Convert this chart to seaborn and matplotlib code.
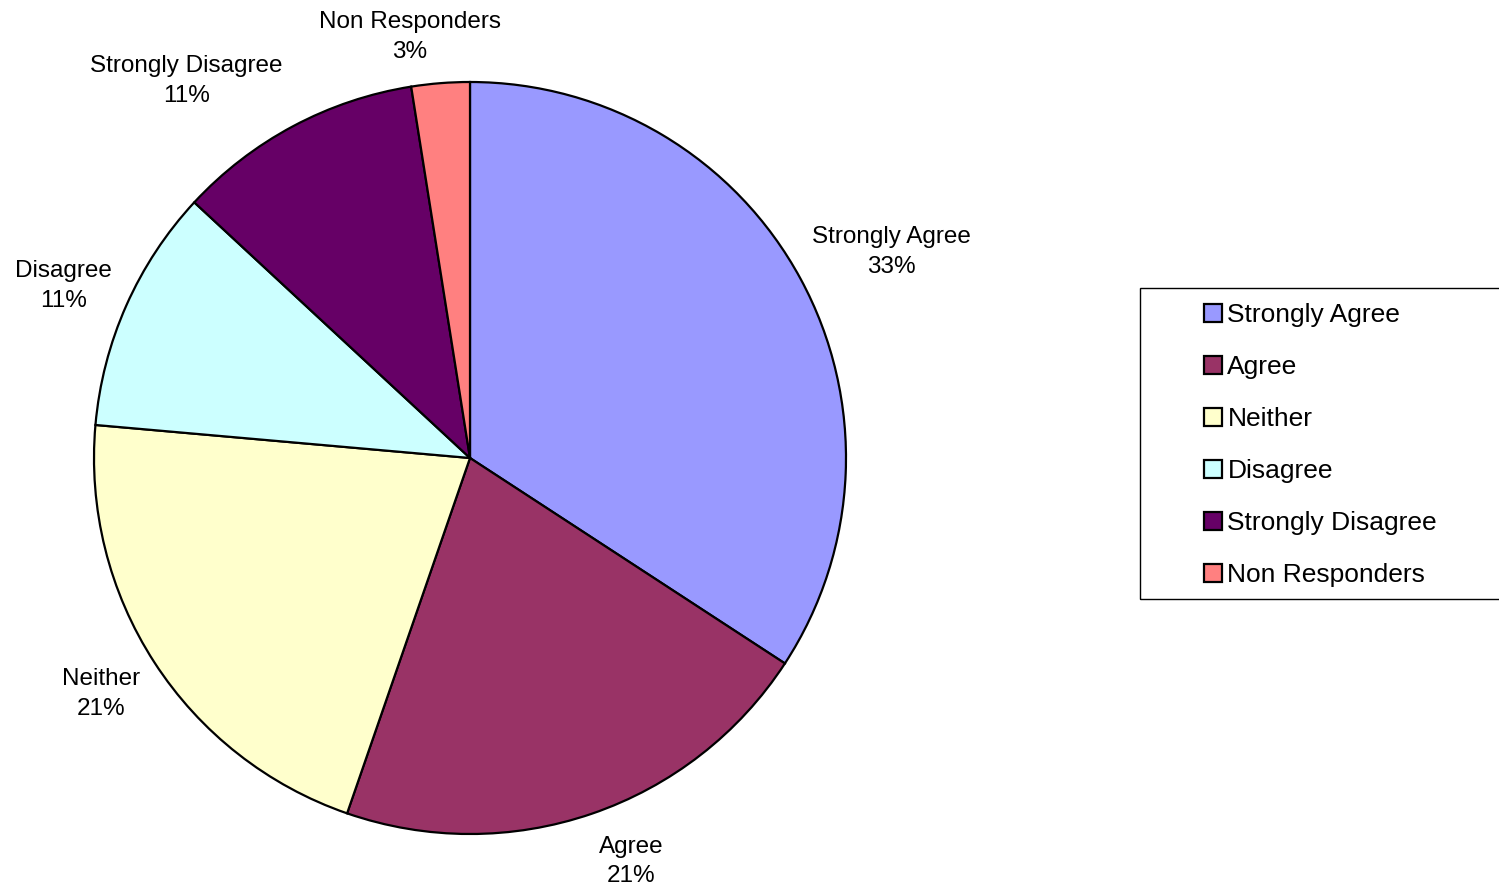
import matplotlib.pyplot as plt
from matplotlib.patches import Patch, Rectangle
import seaborn as sns

# data
categories = ['Strongly Agree', 'Agree', 'Neither', 'Disagree',
              'Strongly Disagree', 'Non Responders']
shares = [34.2, 21.1, 21.1, 10.5, 10.6, 2.5]
pct_text = ['33%', '21%', '21%', '11%', '11%', '3%']
colors = ['#9999FF', '#993366', '#FFFFCC', '#CCFFFF', '#660066', '#FF8080']

# label centres in pie units (radius = 1)
label_xy = [(1.122, 0.548), (0.428, -1.073), (-0.981, -0.627),
            (-1.082, 0.458), (-0.755, 1.003), (-0.160, 1.120)]

sns.set_theme(style='white')
plt.rcParams['font.family'] = ['Liberation Sans', 'DejaVu Sans']
plt.rcParams['text.color'] = 'black'

fig = plt.figure(figsize=(14.99, 8.90), dpi=100)
W, H = 1499, 890
cx, cy, r = 470, 458, 376
ax = fig.add_axes([(cx - r) / W, (H - cy - r) / H, 2 * r / W, 2 * r / H])

wedges, _ = ax.pie(shares, colors=colors, startangle=90, counterclock=False,
                   radius=1, wedgeprops=dict(edgecolor='black', linewidth=1.6))
ax.set_xlim(-1, 1)
ax.set_ylim(-1, 1)
ax.set_aspect('equal')
ax.axis('off')

for (x, y), name, pct in zip(label_xy, categories, pct_text):
    ax.text(x, y, f'{name}\n{pct}', ha='center', va='center', fontsize=17.5,
            linespacing=1.45, color='black', clip_on=False)

# legend
handles = [Patch(facecolor=c, edgecolor='black', linewidth=1.6) for c in colors]
leg = fig.legend(handles, categories, loc='upper left',
                 bbox_to_anchor=(1191 / W, 1 - 290 / H), frameon=False,
                 fontsize=19, handlelength=0.66, handleheight=0.66,
                 handletextpad=0.22, labelspacing=1.06, borderpad=0)
for t in leg.get_texts():
    t.set_color('black')
fig.add_artist(Rectangle((1140 / W, 1 - 599 / H), 400 / W, 311 / H,
                         transform=fig.transFigure, fill=False,
                         edgecolor='black', linewidth=1.0))

fig.savefig('out.png', dpi=100)
